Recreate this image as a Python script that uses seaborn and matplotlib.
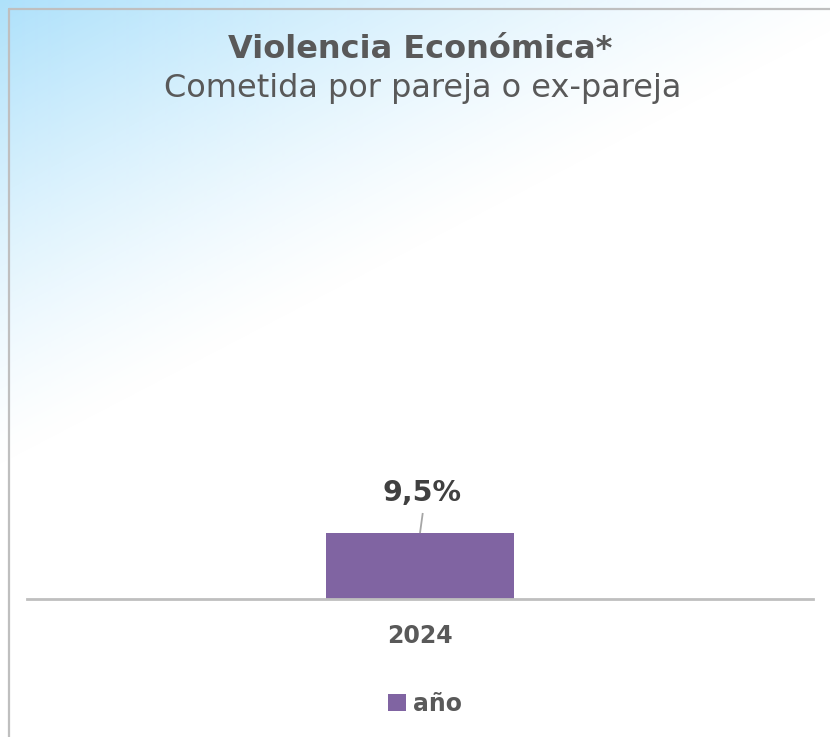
import numpy as np
import pandas as pd
import matplotlib
matplotlib.use("Agg")
import matplotlib.pyplot as plt
from matplotlib.lines import Line2D
import seaborn as sns

# ---- data ----
years = ["2024"]
values = [9.5]
series = ["año"]
value_labels = ["9,5%"]
title = "Violencia Económica*"
subtitle = "Cometida por pareja o ex-pareja"

df = pd.DataFrame({"year": years, "value": values, "serie": series})

sns.set_theme(style="white")
plt.rcParams["font.family"] = ["DejaVu Sans"]

W, H = 830, 737
fig = plt.figure(figsize=(W / 100, H / 100), dpi=100)
fig.patch.set_facecolor("white")

# background gradient
bg = fig.add_axes([0, 0, 1, 1], zorder=-10)
yy, xx = np.mgrid[0:H, 0:W]
t = np.clip(1 - (xx / 900 + yy / 470), 0, 1) ** 1.3
rgba = np.zeros((H, W, 4))
rgba[..., 0] = 174 / 255
rgba[..., 1] = 225 / 255
rgba[..., 2] = 251 / 255
rgba[..., 3] = t
bg.imshow(rgba, aspect="auto", interpolation="bilinear")
bg.set_axis_off()

# frame lines (top and left)
fx = 8.5 / W
fy = 1 - 8.5 / H
fig.add_artist(Line2D([fx, fx], [0, fy], transform=fig.transFigure, color="#BFBFBF", lw=1.6))
fig.add_artist(Line2D([fx, 1], [fy, fy], transform=fig.transFigure, color="#BFBFBF", lw=1.6))

# main axes
left_px, right_px, bottom_px, top_px = 27, 813, 599, 130
ax = fig.add_axes([left_px / W, 1 - bottom_px / H, (right_px - left_px) / W, (bottom_px - top_px) / H])
ax.set_facecolor("none")
purple = "#8064A2"
sns.barplot(data=df, x="year", y="value", hue="serie", palette=[purple], width=0.24, ax=ax,
            saturation=1, edgecolor="none")
ymax = 9.5 * (bottom_px - top_px) / 66
ax.set_ylim(0, ymax)
ax.set_xlim(-0.5, 0.5)
for s in ["top", "right", "left"]:
    ax.spines[s].set_visible(False)
ax.spines["bottom"].set_color("#BFBFBF")
ax.spines["bottom"].set_linewidth(2)
ax.set_yticks([])
ax.set_xlabel("")
ax.set_ylabel("")
ax.tick_params(axis="x", length=0, pad=18)
for lbl in ax.get_xticklabels():
    lbl.set_fontsize(17)
    lbl.set_fontweight("bold")
    lbl.set_color("#595959")

# value labels with leader lines
for i, (v, lab) in enumerate(zip(values, value_labels)):
    ax.text(i + 0.003, v + 5.7, lab, ha="center", va="center", fontsize=20.5,
            fontweight="bold", color="#404040")
    ax.plot([i + 0.0035, i], [v + 2.88, v], color="#A6A6A6", lw=1.3, solid_capstyle="butt")

# legend
handles, labels = ax.get_legend_handles_labels()
if ax.get_legend() is not None:
    ax.get_legend().remove()
fig.legend(handles, labels, loc="center", bbox_to_anchor=(425 / W, 1 - 704 / H),
           frameon=False, handlelength=0.75, handleheight=0.75, handletextpad=0.3,
           prop={"size": 17, "weight": "bold"}, labelcolor="#595959")

# titles
fig.text(420 / W, 1 - 49 / H, title, ha="center", va="center", fontsize=23,
         fontweight="bold", color="#595959")
fig.text(423 / W, 1 - 89 / H, subtitle, ha="center", va="center", fontsize=23,
         color="#595959")

fig.savefig("out.png", dpi=100)
